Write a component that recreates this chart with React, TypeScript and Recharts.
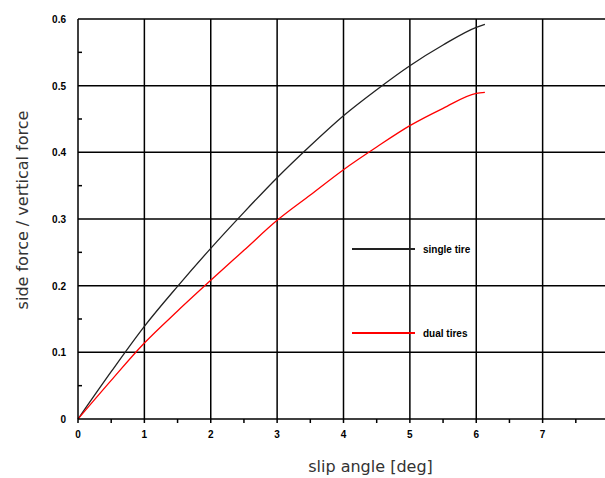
import React from 'react';
import { LineChart, Line, XAxis, YAxis, CartesianGrid } from 'recharts';

const slipAngle = [0, 0.5, 1, 1.5, 2, 2.5, 3, 3.5, 4, 4.5, 5, 5.5, 6, 6.13];
const singleTire = [0, 0.071, 0.139, 0.199, 0.256, 0.31, 0.362, 0.41, 0.455, 0.494, 0.53, 0.561, 0.5875, 0.592];
const dualTires = [0, 0.058, 0.114, 0.162, 0.208, 0.253, 0.298, 0.336, 0.374, 0.408, 0.44, 0.466, 0.4885, 0.49];

const xTicks = [0, 0.5, 1, 1.5, 2, 2.5, 3, 3.5, 4, 4.5, 5, 5.5, 6, 6.5, 7, 7.5, 8];
const xGrid = [1, 2, 3, 4, 5, 6, 7, 8];
const yTicks = [0, 0.05, 0.1, 0.15, 0.2, 0.25, 0.3, 0.35, 0.4, 0.45, 0.5, 0.55, 0.6];
const yGrid = [0.1, 0.2, 0.3, 0.4, 0.5, 0.6];

const seriesInfo = [
  { key: 'single', name: 'single tire', color: '#222222' },
  { key: 'dual', name: 'dual tires', color: '#ff0000' },
];

const data = slipAngle.map((x, i) => ({ x, single: singleTire[i], dual: dualTires[i] }));

const tickFont = { fontFamily: 'Liberation Sans, Arial, sans-serif', fontSize: 10, fontWeight: 700, fill: '#000' };

const YTick = (props: any) => {
  const { x, y, payload } = props;
  const v = payload.value as number;
  const major = Math.round(v * 100) % 10 === 0;
  if (major) {
    return (
      <text x={x} y={y} dy={4} textAnchor="end" style={tickFont}>
        {v === 0 ? '0' : v.toFixed(1)}
      </text>
    );
  }
  return <line x1={x + 12} x2={x + 16} y1={y} y2={y} stroke="#000" strokeWidth={1.5} />;
};

export default function App() {
  return (
    <div style={{ position: 'absolute', left: 0, top: 0, width: 605, height: 478, overflow: 'hidden', background: '#fff' }}>
      <LineChart width={612} height={478} data={data} margin={{ top: 19, right: 3, bottom: 29, left: 0 }}>
        <CartesianGrid
          stroke="#000"
          strokeWidth={1.5}
          horizontalValues={yGrid}
          verticalValues={xGrid}
        />
        <XAxis
          dataKey="x"
          type="number"
          domain={[0, 8]}
          ticks={xTicks}
          interval={0}
          tickSize={4}
          tickMargin={8}
          height={30}
          tickLine={{ stroke: '#000', strokeWidth: 1.5 }}
          axisLine={{ stroke: '#000', strokeWidth: 1.5 }}
          tick={tickFont}
          tickFormatter={(v: number) => (Number.isInteger(v) && v < 8 ? String(v) : '')}
          label={{
            content: (p: any) => {
              const vb = p.viewBox;
              return (
                <text
                  x={vb.x + vb.width / 2 + 27}
                  y={466}
                  textAnchor="middle"
                  dominantBaseline="central"
                  style={{ fontFamily: 'DejaVu Sans, sans-serif', fontSize: 16, fill: '#333' }}
                >
                  slip angle [deg]
                </text>
              );
            },
          }}
        />
        <YAxis
          type="number"
          domain={[0, 0.6]}
          ticks={yTicks}
          interval={0}
          width={78}
          tickSize={0}
          tickMargin={12}
          tickLine={false}
          axisLine={{ stroke: '#000', strokeWidth: 1.5 }}
          tick={<YTick />}
          label={{
            content: (p: any) => {
              const vb = p.viewBox;
              const cx = vb.x + 22;
              const cy = vb.y + vb.height / 2 - 9;
              return (
                <text
                  x={cx}
                  y={cy}
                  transform={`rotate(-90 ${cx} ${cy})`}
                  textAnchor="middle"
                  dominantBaseline="central"
                  style={{ fontFamily: 'DejaVu Sans, sans-serif', fontSize: 16, fill: '#333' }}
                >
                  side force / vertical force
                </text>
              );
            },
          }}
        />
        {seriesInfo.map((s) => (
          <Line
            key={s.key}
            dataKey={s.key}
            name={s.name}
            type="monotone"
            stroke={s.color}
            strokeWidth={1.3}
            dot={false}
            isAnimationActive={false}
          />
        ))}
      </LineChart>
      {seriesInfo.map((s, i) => (
        <div
          key={s.key}
          style={{
            position: 'absolute',
            left: 352,
            top: i === 0 ? 241 : 325,
            height: 16,
            display: 'flex',
            alignItems: 'center',
          }}
        >
          <div style={{ width: 63, height: 2, backgroundColor: s.color }} />
          <span
            style={{
              marginLeft: 8,
              fontFamily: 'Liberation Sans, Arial, sans-serif',
              fontSize: 10,
              fontWeight: 700,
              color: '#000',
              whiteSpace: 'nowrap',
            }}
          >
            {s.name}
          </span>
        </div>
      ))}
    </div>
  );
}
